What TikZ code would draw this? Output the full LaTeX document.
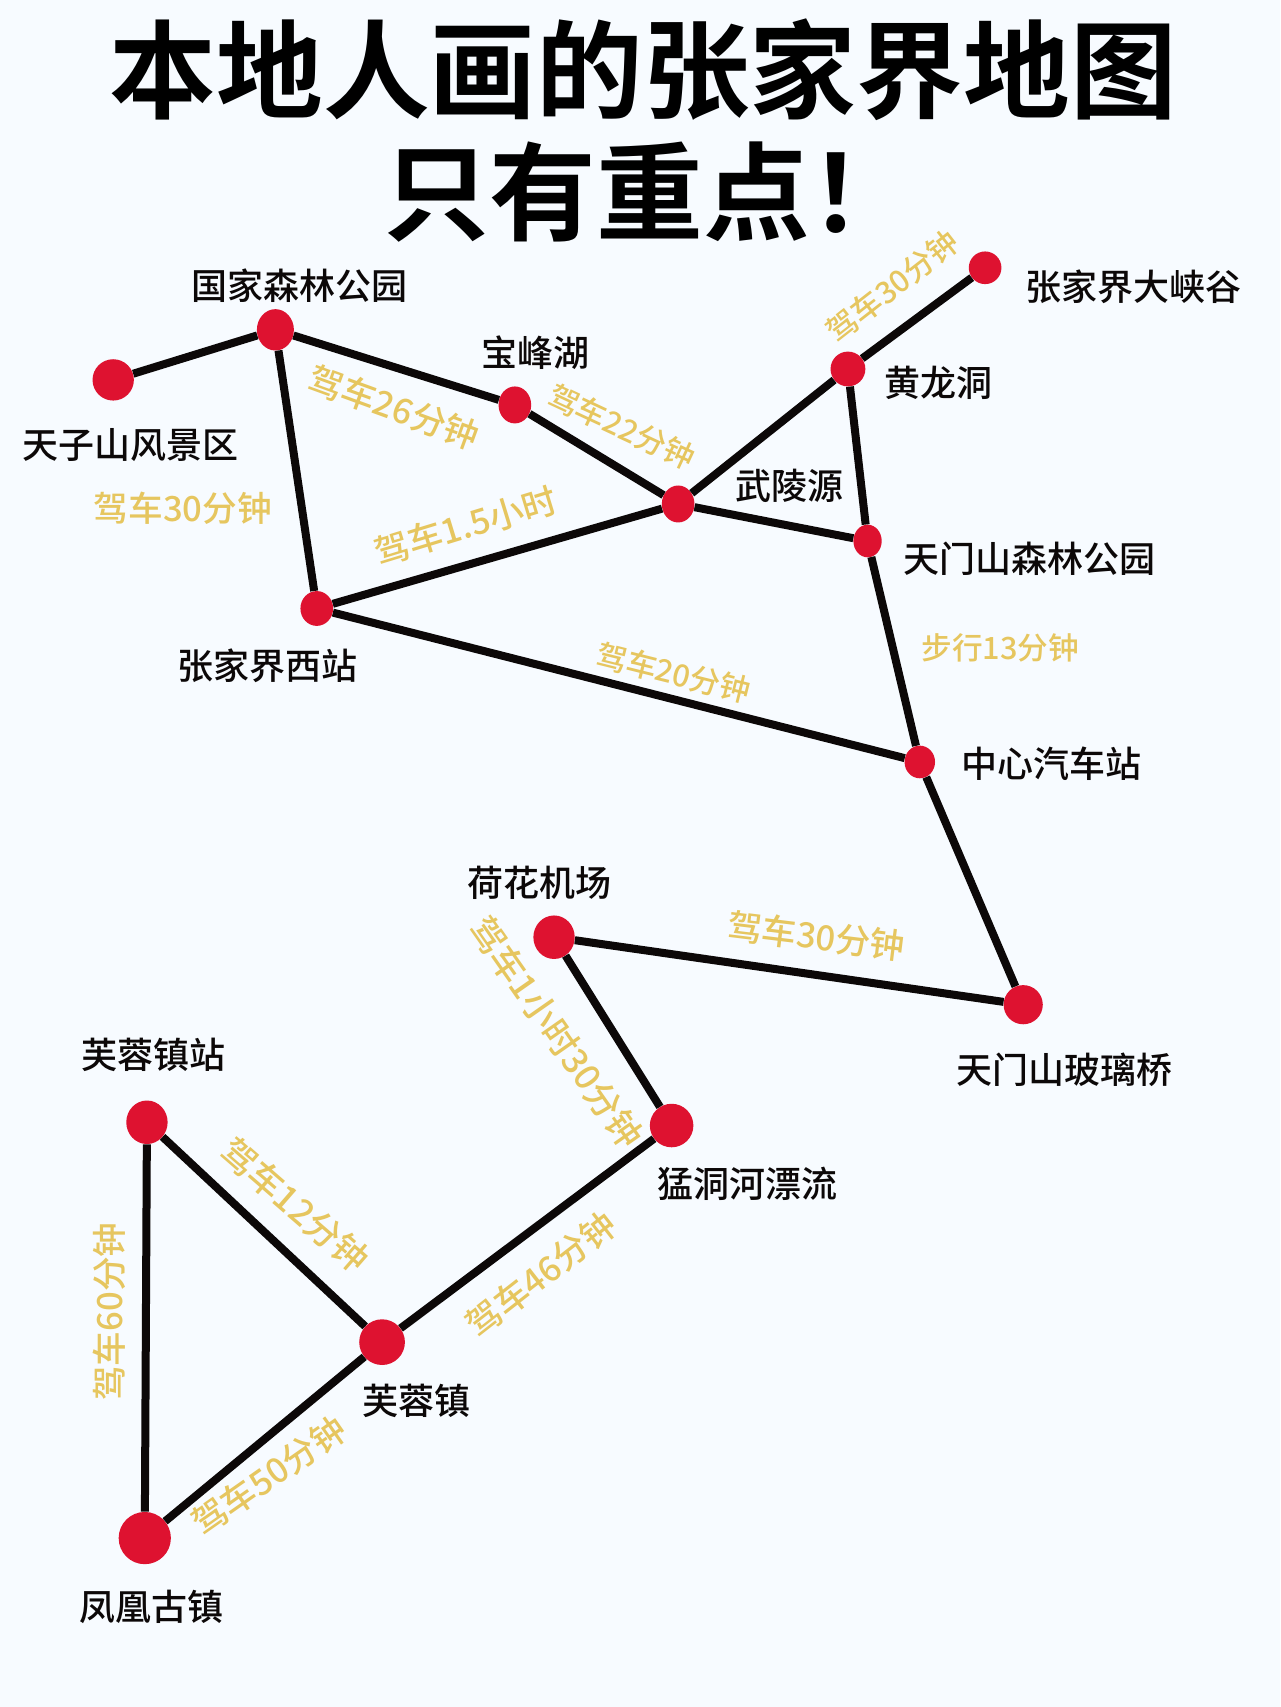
\documentclass[tikz,border=0pt]{standalone}
\usepackage{fontspec}
\usetikzlibrary{shapes.geometric}
\setmainfont{Noto Sans CJK SC}
\newfontfamily\lblfont{Noto Sans CJK SC Medium}
\newfontfamily\ttlfont{Noto Sans CJK SC Bold}
\definecolor{bgc}{HTML}{F7FBFF}
\definecolor{redc}{HTML}{DE1230}
\definecolor{goldc}{HTML}{E6C65F}
\definecolor{inkc}{HTML}{0C0808}
\tikzset{
  x=0.8163pt,y=-0.8163pt,
  stop/.style 2 args={ellipse,fill=redc,inner sep=0pt,minimum width=#1*1.632pt,minimum height=#2*1.632pt},
  lbl/.style={text=inkc,inner sep=0pt,font=\lblfont\fontsize{27}{27}\selectfont},
  tm/.style={text=goldc,inner sep=0pt,font=\lblfont\fontsize{#1}{#1}\selectfont},
  ttl/.style={text=black,inner sep=0pt,font=\ttlfont\fontsize{80}{80}\selectfont},
  road/.style={draw=inkc,line width=6pt}
}
\begin{document}
\begin{tikzpicture}
\useasboundingbox (0,0) rectangle (1176,1568.2);
\fill[bgc] (0,0) rectangle (1176,1568.2);
\node[ttl] (t1) at (591,64) {本地人画的张家界地图};
\node[ttl] (t2) at (597,176) {只有重点！};
% stops
\node[stop={19}{19}] (tzs) at (104,349) {};
\node[stop={17}{19}] (gj) at (253,303) {};
\node[stop={15}{17}] (bf) at (473,372) {};
\node[stop={15}{17}] (wl) at (623,463) {};
\node[stop={16}{16}] (hl) at (779,339) {};
\node[stop={15}{15}] (dx) at (905,246) {};
\node[stop={13}{15}] (tm) at (797,497) {};
\node[stop={15}{16}] (xz) at (291,559) {};
\node[stop={14}{15}] (zx) at (845,700) {};
\node[stop={19}{20}] (hh) at (509,861) {};
\node[stop={18}{18}] (bl) at (940,923) {};
\node[stop={20}{20}] (md) at (617,1034) {};
\node[stop={19}{20}] (fz) at (135,1031) {};
\node[stop={21}{21}] (fr) at (351,1233) {};
\node[stop={24}{24}] (fh) at (133,1413) {};
% roads
\draw[road] (tzs)--(gj);
\draw[road] (gj)--(bf);
\draw[road] (bf)--(wl);
\draw[road] (gj)--(xz);
\draw[road] (xz)--(wl);
\draw[road] (xz)--(zx);
\draw[road] (wl)--(hl);
\draw[road] (hl)--(dx);
\draw[road] (wl)--(tm);
\draw[road] (hl)--(tm);
\draw[road] (tm)--(zx);
\draw[road] (zx)--(bl);
\draw[road] (bl)--(hh);
\draw[road] (hh)--(md);
\draw[road] (md)--(fr);
\draw[road] (fr)--(fz);
\draw[road] (fz)--(fh);
\draw[road] (fr)--(fh);
% place names
\node[lbl] (n1) at (275,262) {国家森林公园};
\node[lbl] (n2) at (492,324) {宝峰湖};
\node[lbl] (n3) at (1041,263) {张家界大峡谷};
\node[lbl] (n4) at (862,352) {黄龙洞};
\node[lbl] (n5) at (725,446) {武陵源};
\node[lbl] (n6) at (946,513) {天门山森林公园};
\node[lbl] (n7) at (120,409) {天子山风景区};
\node[lbl] (n8) at (246,612) {张家界西站};
\node[lbl] (n9) at (966,702) {中心汽车站};
\node[lbl] (n10) at (496,811) {荷花机场};
\node[lbl] (n11) at (978,983) {天门山玻璃桥};
\node[lbl] (n12) at (687,1088) {猛洞河漂流};
\node[lbl] (n13) at (141,969) {芙蓉镇站};
\node[lbl] (n14) at (383,1287) {芙蓉镇};
\node[lbl] (n15) at (139,1476) {凤凰古镇};
% travel times
\node[tm=26,rotate=-20] (d1) at (362,374) {驾车26分钟};
\node[tm=23,rotate=-25] (d2) at (571,392) {驾车22分钟};
\node[tm=23,rotate=38] (d3) at (820,263) {驾车30分钟};
\node[tm=26] (d4) at (168,467) {驾车30分钟};
\node[tm=26,rotate=17] (d5) at (428,483) {驾车1.5小时};
\node[tm=23,rotate=-14] (d6) at (619,618) {驾车20分钟};
\node[tm=23] (d7) at (919,595) {步行13分钟};
\node[tm=26,rotate=-7] (d8) at (750,860) {驾车30分钟};
\node[tm=26.5,rotate=-55] (d9) at (511,948) {驾车1小时30分钟};
\node[tm=26.5,rotate=-41] (d10) at (271,1107) {驾车12分钟};
\node[tm=26,rotate=90] (d11) at (100,1205) {驾车60分钟};
\node[tm=26,rotate=38] (d12) at (497,1171) {驾车46分钟};
\node[tm=26,rotate=35] (d13) at (247,1356) {驾车50分钟};
\end{tikzpicture}
\end{document}
